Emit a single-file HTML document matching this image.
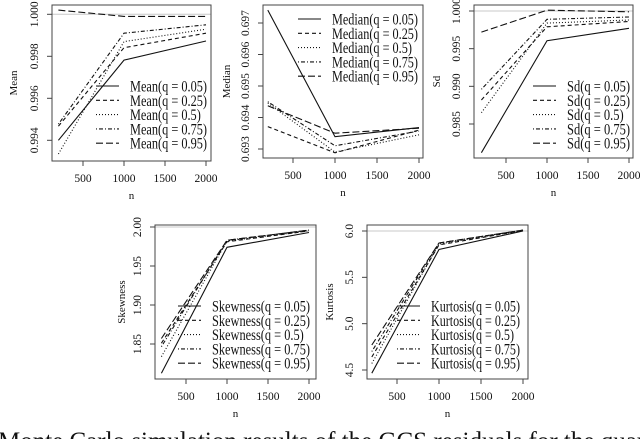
<!DOCTYPE html>
<html><head><meta charset="utf-8"><style>
html,body{margin:0;padding:0;background:#fff;width:640px;height:439px;overflow:hidden}
svg{display:block}
text{font-family:"Liberation Serif",serif;fill:#111}
</style></head><body>
<svg id="fig" width="640" height="439" viewBox="0 0 640 439">
<text x="-2" y="449" font-size="25">Monte Carlo simulation results of the GCS residuals for the quantile based bounds</text>
</svg>
<script>
const nValues = [200, 1000, 2000];
const qLabels = ["0.05", "0.25", "0.5", "0.75", "0.95"];
const meanValues = [[0.99400,0.99782,0.99873],[0.99467,0.99841,0.99910],[0.99335,0.99870,0.99929],[0.99477,0.99910,0.99950],[1.00020,0.99990,0.99990]];
const medianValues = [[0.69741,0.69339,0.69368],[0.69371,0.69288,0.69360],[0.69446,0.69290,0.69345],[0.69450,0.69310,0.69357],[0.69437,0.69350,0.69366]];
const sdValues = [[0.98119,0.99606,0.99770],[0.98819,0.99790,0.99860],[0.98650,0.99840,0.99880],[0.98960,0.99890,0.99920],[0.99720,1.00010,0.99990]];
const skewValues = [[1.8124,1.9740,1.9930],[1.8510,1.9810,1.9950],[1.8337,1.9820,1.9950],[1.8466,1.9830,1.9960],[1.8570,1.9830,1.9960]];
const kurtValues = [[4.465,5.800,6.000],[4.640,5.850,6.005],[4.570,5.860,6.005],[4.700,5.870,6.010],[4.770,5.870,6.010]];
const xTicks = [500, 1000, 1500, 2000];
const meanTicks = ["0.994","0.996","0.998","1.000"];
const medianTicks = ["0.693","0.694","0.695","0.696","0.697"];
const sdTicks = ["0.985","0.990","0.995","1.000"];
const skewTicks = ["1.85","1.90","1.95","2.00"];
const kurtTicks = ["4.5","5.0","5.5","6.0"];

const NS="http://www.w3.org/2000/svg";
const svg=document.getElementById('fig');
const dashes=["none","4,3","1,2","1,2,4,2","7,3"];
function mk(tag,attrs,parent){const e=document.createElementNS(NS,tag);for(const k in attrs)e.setAttribute(k,attrs[k]);(parent||svg).appendChild(e);return e;}

function panel(cfg){
  const g=mk('g',{});
  
  
  const [L,R,T,B]=cfg.box;
  const xs=v=>cfg.x500+(v-500)*(cfg.x1000-cfg.x500)/500;
  const ys=v=>cfg.yA+(v-cfg.vA)*(cfg.yB-cfg.yA)/(cfg.vB-cfg.vA);
  if(cfg.ref!==undefined){
    const h=mk('line',{x1:L,x2:R,y1:ys(cfg.ref),y2:ys(cfg.ref),stroke:'#c8c8c8','stroke-width':1},g);
    
    
  }
  cfg.values.forEach((vals,i)=>{
    const pts=vals.map((v,j)=>xs(nValues[j]).toFixed(1)+','+ys(v).toFixed(1)).join(' ');
    const p=mk('polyline',{points:pts,fill:'none',stroke:'#111','stroke-width':1.1,'stroke-dasharray':dashes[i]},g);
    
    
  });
  const box=mk('rect',{x:L,y:T,width:R-L,height:B-T,fill:'none',stroke:'#444','stroke-width':1},g);
  
  
  xTicks.forEach(t=>{
    const x=xs(t);
    mk('line',{x1:x,x2:x,y1:B,y2:B+5,stroke:'#444'},g);
    const tx=mk('text',{x:x,y:B+21,'font-size':11.5,'text-anchor':'middle'},g);
    tx.textContent=t;
    
    
  });
  cfg.ticks.forEach(t=>{
    const y=ys(parseFloat(t));
    mk('line',{x1:L-5,x2:L,y1:y,y2:y,stroke:'#444'},g);
    const tx=mk('text',{x:0,y:0,'font-size':11.5,'text-anchor':'middle',transform:`translate(${L-14},${y}) rotate(-90)`},g);
    tx.textContent=t;
    
    
  });
  const xl=mk('text',{x:(L+R)/2,y:B+38,'font-size':11,'text-anchor':'middle'},g);
  xl.textContent='n';
  
  
  const yl=mk('text',{x:0,y:0,'font-size':11,'text-anchor':'middle',transform:`translate(${cfg.ylx},${(T+B)/2}) rotate(-90)`},g);
  yl.textContent=cfg.title;
  
  
  const lg=mk('g',{},g);
  
  
  let factor=null;
  qLabels.forEach((q,i)=>{
    const y=cfg.leg[1]+i*14.3;
    mk('line',{x1:cfg.leg[0],x2:cfg.leg[0]+23,y1:y,y2:y,stroke:'#111','stroke-width':1.1,'stroke-dasharray':dashes[i]},lg);
    const tx=mk('text',{x:cfg.leg[2],y:y+5.5,'font-size':15.5},lg);
    tx.textContent=cfg.title+'(q = '+q+')';
    
    
    const w=tx.getComputedTextLength();
    if(factor===null) factor=cfg.legW/w;
    tx.setAttribute('textLength',(w*factor).toFixed(1));
    tx.setAttribute('lengthAdjust','spacingAndGlyphs');
  });
}

panel({name:'mean',title:'Mean',values:meanValues,ticks:meanTicks,box:[52,211,5,161],x500:83,x1000:124,yA:14.3,vA:1.0,yB:140.3,vB:0.994,ref:1.0,ylx:17,leg:[96,86,130],legW:77});
panel({name:'median',title:'Median',values:medianValues,ticks:medianTicks,box:[263,423,5,158],x500:293,x1000:335,yA:23,vA:0.697,yB:149,vB:0.693,ylx:230,leg:[298,19,332],legW:86});
panel({name:'sd',title:'Sd',values:sdValues,ticks:sdTicks,box:[474,633,5,158],x500:506,x1000:547,yA:11,vA:1.0,yB:124,vB:0.985,ref:1.0,ylx:440,leg:[533,86,567],legW:63});
panel({name:'skewness',title:'Skewness',values:skewValues,ticks:skewTicks,box:[155,316,225,379],x500:186,x1000:227,yA:227,vA:2.0,yB:344,vB:1.85,ref:2.0,ylx:125,leg:[178,306,212],legW:98});
panel({name:'kurtosis',title:'Kurtosis',values:kurtValues,ticks:kurtTicks,box:[367,528,225,379],x500:397,x1000:439,yA:231,vA:6.0,yB:370,vB:4.5,ref:6.0,ylx:333,leg:[397,306,431],legW:89});
</script>
</body></html>
